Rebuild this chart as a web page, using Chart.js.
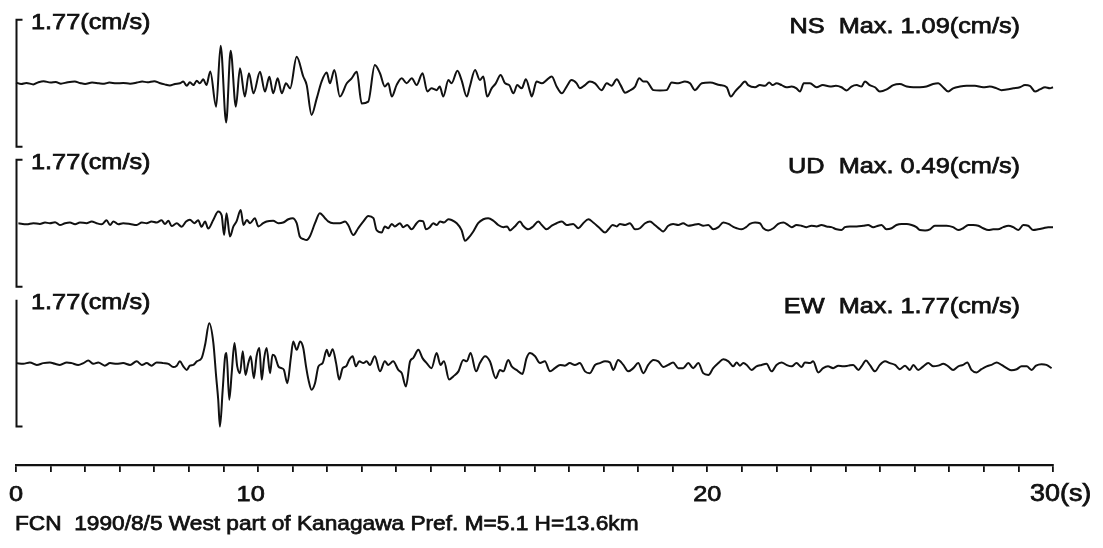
<!DOCTYPE html>
<html>
<head>
<meta charset="utf-8">
<title>FCN 1990/8/5 velocity records</title>
<script src="https://cdn.jsdelivr.net/npm/chart.js@4.4.1/dist/chart.umd.min.js"></script>
<style>
  html, body { margin: 0; padding: 0; background: #ffffff; }
  #wrap { width: 1103px; height: 548px; position: relative; }
  canvas { display: block; }
</style>
</head>
<body>
<div id="wrap"><canvas id="seis" width="1103" height="548"></canvas></div>
<script>
// Velocity seismograms (cm/s) recorded at FCN, three components, 0-30 s.

const nsTime = [0,0.15,0.3,0.5,0.65,0.8,1.0,1.15,1.3,1.5,1.7,1.85,2.0,2.2,2.4,2.55,2.7,2.9,3.1,3.3,3.5,3.65,3.8,4.0,4.15,4.3,4.45,4.6,
  4.74,4.84,4.94,5.03,5.13,5.23,5.32,5.42,5.51,5.62,5.79,5.92,6.08,6.21,6.36,6.48,6.62,6.74,6.87,7.06,7.20,7.33,7.44,7.57,7.69,7.81,7.93,
  8.12,8.31,8.41,8.55,8.70,8.84,8.99,9.08,9.21,9.37,9.57,9.71,9.86,10.00,10.19,10.38,10.53,10.67,10.77,10.87,11.01,11.16,11.30,11.45,11.59,
  11.76,11.90,12.02,12.17,12.26,12.36,12.51,12.60,12.77,12.89,13.04,13.13,13.28,13.42,13.52,13.63,13.76,13.88,14.02,14.15,14.27,14.39,14.50,
  14.63,14.75,14.87,14.92,15.06,15.21,15.35,15.50,15.64,15.79,15.93,16.07,16.22,16.31,16.46,16.60,16.75,16.94,17.09,17.23,17.38,17.49,17.62,
  17.76,17.91,18.03,18.15,18.24,18.44,18.63,18.82,18.97,19.16,19.35,19.50,19.64,19.84,20.08,20.36,20.56,20.68,20.80,20.94,21.09,21.18,21.38,
  21.52,21.67,21.79,21.89,22.00,22.15,22.29,22.44,22.58,22.68,22.79,22.97,23.16,23.34,23.55,23.72,23.88,24.03,24.17,24.32,24.46,24.56,24.70,
  24.85,24.99,25.19,25.38,25.57,25.77,25.96,26.15,26.34,26.53,26.68,26.82,26.97,27.11,27.31,27.50,27.74,27.98,28.17,28.37,28.51,28.66,28.85,
  29.04,29.19,29.33,29.48,29.62,29.77,29.91,30.0];
const nsVel = [0.02,-0.02,0.01,-0.03,0.03,0.06,0.02,0.04,-0.01,0.03,0.05,0.01,-0.02,0.02,0.0,-0.01,0.02,0.0,0.01,-0.01,0.02,0.05,0.03,0.06,0.01,-0.03,-0.06,-0.02,
  0,0.05,-0.07,0.03,-0.05,0.07,0,0.11,-0.05,0.33,-0.65,1.05,-1.09,0.91,-0.65,0.42,-0.37,0.28,-0.28,0.32,-0.23,0.18,-0.28,0.14,-0.28,0,-0.14,
  0.74,0.19,-0.05,-0.88,-0.42,0.05,0.30,0,0.37,-0.37,0,0.14,0.32,-0.56,-0.51,0.51,0.28,-0.09,0,-0.37,-0.05,0.14,0,0.14,-0.05,
  0.28,-0.23,-0.14,-0.19,-0.09,-0.37,0.09,0,0.35,0.09,-0.37,-0.09,0.37,0.09,0.19,-0.37,-0.14,0,0.23,0,-0.05,-0.28,-0.05,
  -0.14,0.11,-0.23,-0.37,0.05,0,0.09,0.19,-0.09,-0.28,-0.09,0.09,0,-0.14,-0.05,0.05,0,-0.19,0,-0.07,0.11,-0.05,-0.26,
  -0.20,-0.09,0.14,0.05,0.05,-0.19,-0.20,-0.19,0.02,0,0.05,0,-0.19,0,0.02,-0.05,-0.11,-0.37,-0.23,-0.09,0.05,-0.05,-0.11,
  -0.05,-0.07,0.02,-0.05,0,-0.05,-0.11,-0.09,-0.14,-0.23,0,0,-0.11,-0.05,-0.09,-0.07,-0.11,-0.20,-0.09,-0.05,-0.09,0.05,-0.05,
  -0.11,-0.23,-0.17,-0.05,-0.02,-0.09,-0.11,-0.11,-0.09,-0.02,0,-0.11,-0.23,-0.14,-0.09,-0.07,-0.07,-0.11,-0.09,-0.14,-0.19,-0.17,-0.14,
  -0.11,-0.05,-0.07,-0.23,-0.17,-0.11,-0.14,-0.11];

const udTime = [0.07,0.31,0.50,0.69,0.84,0.98,1.13,1.27,1.42,1.56,1.71,1.85,2.04,2.19,2.33,2.48,2.62,2.72,2.82,2.96,3.10,3.30,3.49,3.64,3.78,
  3.92,4.07,4.21,4.31,4.41,4.50,4.65,4.79,4.92,5.03,5.16,5.27,5.37,5.47,5.56,5.71,5.85,5.95,6.02,6.09,6.19,6.29,6.38,6.50,6.58,6.68,6.77,
  6.91,7.01,7.15,7.25,7.44,7.59,7.73,7.88,8.00,8.12,8.21,8.31,8.41,8.50,8.65,8.79,8.94,9.03,9.18,9.37,9.52,9.61,9.76,9.90,10.05,10.19,
  10.34,10.43,10.58,10.67,10.77,10.87,10.96,11.11,11.20,11.32,11.44,11.59,11.68,11.78,11.86,11.97,12.07,12.17,12.27,12.38,12.51,12.60,12.75,
  12.89,12.99,13.08,13.23,13.37,13.52,13.66,13.81,13.95,14.10,14.21,14.29,14.43,14.58,14.67,14.82,14.96,15.11,15.21,15.35,15.50,15.64,15.79,
  15.93,16.12,16.27,16.41,16.56,16.70,16.89,17.04,17.14,17.26,17.38,17.47,17.62,17.76,17.91,18.05,18.20,18.34,18.48,18.63,18.72,18.87,19.01,
  19.16,19.30,19.45,19.59,19.74,19.88,20.03,20.17,20.32,20.46,20.61,20.75,20.85,20.99,21.12,21.23,21.38,21.52,21.62,21.76,21.91,22.05,22.20,
  22.34,22.44,22.58,22.72,22.87,23.01,23.16,23.30,23.45,23.59,23.74,23.88,23.98,24.12,24.32,24.51,24.65,24.80,24.94,25.04,25.18,25.33,25.47,
  25.62,25.77,25.91,26.05,26.15,26.30,26.44,26.58,26.73,26.92,27.11,27.26,27.40,27.55,27.69,27.84,27.98,28.13,28.27,28.41,28.56,28.71,28.85,
  29.00,29.14,29.28,29.43,29.57,29.72,29.86,30.0];
const udVel = [0,-0.03,0,-0.02,0.02,0,0.03,-0.05,0,0.02,-0.03,0.02,0,0.05,0,-0.03,0.08,-0.05,0.05,-0.03,0,-0.02,-0.05,0.02,0,
  0.05,0.02,0.08,-0.02,0.07,-0.08,0,-0.10,0.05,0.10,0,0.08,-0.10,0.05,-0.15,0.10,0.33,0.22,-0.33,0.28,-0.37,-0.09,0.05,0.37,-0.05,0.09,0,
  0.14,-0.09,0,0.05,0.07,0,0.02,0.11,0.14,0,-0.37,-0.44,-0.47,-0.37,0,0.28,0.14,0.05,0,0,0.05,-0.05,-0.33,-0.14,0.05,0.20,
  0.14,-0.19,-0.26,-0.09,-0.14,-0.02,-0.09,0,-0.11,-0.05,-0.17,0,0.07,0.05,-0.17,-0.11,0,-0.05,0.05,0.02,0.11,0.09,0,
  -0.19,-0.49,-0.42,-0.23,0,0.11,0.14,0.07,-0.05,-0.11,-0.09,-0.20,-0.09,0.05,-0.07,-0.17,-0.09,0.05,-0.05,-0.17,-0.07,0,0.05,
  -0.05,-0.02,-0.14,0,0.11,0.02,-0.14,-0.26,-0.17,-0.05,-0.09,-0.02,-0.05,0,-0.17,-0.14,0,0.05,-0.05,-0.17,-0.23,-0.07,-0.02,
  -0.05,0,-0.07,-0.05,-0.02,-0.07,-0.05,-0.17,-0.11,0.02,-0.02,-0.10,-0.14,-0.17,-0.11,-0.02,0.02,0,-0.14,-0.20,-0.14,-0.02,0.02,
  -0.05,-0.11,-0.05,-0.07,-0.11,-0.07,-0.09,-0.05,-0.09,-0.11,-0.17,-0.19,-0.11,-0.09,-0.09,-0.07,-0.05,-0.11,-0.07,-0.05,-0.17,-0.14,-0.05,
  -0.02,-0.02,-0.05,-0.11,-0.19,-0.20,-0.17,-0.07,-0.07,-0.07,-0.11,-0.19,-0.14,-0.05,-0.05,-0.07,-0.14,-0.19,-0.17,-0.17,-0.11,-0.07,-0.11,
  -0.19,-0.05,-0.07,-0.19,-0.17,-0.14,-0.11,-0.11];

const ewTime = [0.02,0.21,0.40,0.60,0.79,0.98,1.13,1.27,1.47,1.61,1.80,1.95,2.09,2.24,2.38,2.57,2.72,2.91,3.10,3.30,3.49,3.64,3.78,3.92,
  4.07,4.26,4.41,4.55,4.65,4.74,4.84,4.94,5.03,5.13,5.23,5.37,5.47,5.59,5.71,5.79,5.85,5.90,5.98,6.05,6.09,6.17,6.24,6.32,6.40,6.48,6.56,
  6.64,6.72,6.79,6.88,6.96,7.04,7.11,7.18,7.25,7.35,7.42,7.49,7.59,7.68,7.75,7.85,7.95,8.02,8.12,8.22,8.31,8.39,8.46,8.55,8.65,8.75,8.87,
  8.99,9.06,9.16,9.26,9.35,9.45,9.55,9.64,9.74,9.83,9.93,10.05,10.14,10.24,10.38,10.53,10.67,10.77,10.91,11.06,11.16,11.28,11.40,11.49,11.64,
  11.76,11.88,12.02,12.17,12.28,12.38,12.53,12.65,12.80,12.94,13.04,13.15,13.31,13.42,13.57,13.71,13.88,14.00,14.10,14.24,14.34,14.48,14.65,
  14.77,14.87,15.01,15.16,15.30,15.45,15.59,15.74,15.88,16.02,16.17,16.31,16.46,16.60,16.75,16.89,17.04,17.18,17.28,17.42,17.57,17.71,17.86,
  18.00,18.15,18.29,18.44,18.58,18.73,18.87,19.01,19.16,19.30,19.45,19.59,19.74,19.88,20.03,20.17,20.32,20.46,20.61,20.75,20.85,20.94,21.04,
  21.14,21.28,21.42,21.57,21.71,21.86,22.00,22.15,22.29,22.44,22.58,22.73,22.82,22.97,23.06,23.21,23.35,23.49,23.64,23.79,23.93,24.08,24.22,
  24.37,24.46,24.59,24.70,24.85,24.99,25.14,25.28,25.43,25.57,25.72,25.86,25.96,26.10,26.25,26.39,26.54,26.68,26.83,26.97,27.11,27.26,27.40,
  27.52,27.64,27.79,27.93,28.08,28.22,28.37,28.51,28.66,28.80,28.95,29.09,29.24,29.38,29.51,29.67,29.81,29.96];
const ewVel = [0,-0.02,0.02,-0.05,0,0.02,-0.02,-0.05,0.02,0,-0.05,0,0.07,-0.02,0.02,-0.07,0,-0.02,0,-0.05,0.05,-0.05,0,-0.07,
  0.02,0,-0.02,-0.11,-0.07,0.05,-0.09,-0.19,-0.07,-0.05,0.05,0.14,0.51,1.11,0.56,-0.37,-1.02,-1.77,-0.74,0.19,0.28,-1.02,-0.28,0.56,-0.09,-0.28,0.33,
  -0.33,0,0.19,-0.42,0.19,0.42,-0.46,0.14,0.42,-0.28,0.23,0.19,-0.09,-0.14,-0.19,-0.56,0.14,0.60,0.37,0.60,0.42,-0.09,-0.46,-0.74,-0.56,-0.09,0,
  0.37,0.19,0.39,0,-0.46,-0.14,-0.09,0.09,0.19,-0.09,0.05,0,0.05,-0.05,0.19,-0.23,0.05,-0.05,0.05,-0.19,-0.28,-0.65,0.05,0.14,0.37,
  0.14,0,-0.14,0.28,-0.05,0.05,-0.46,-0.37,-0.23,0.09,0.05,0.28,-0.23,0,0.19,0.05,-0.42,-0.19,-0.23,0.09,-0.09,-0.19,-0.30,
  0.14,0.28,0.20,0,0.05,-0.23,-0.14,-0.05,-0.07,0,-0.05,0,-0.23,-0.28,-0.05,0,0.05,0.02,-0.19,0.09,-0.05,-0.23,-0.14,
  0,-0.28,-0.05,0.09,0.05,-0.11,-0.05,0.02,-0.14,-0.14,0,-0.14,0,-0.28,-0.33,-0.14,0,0.11,0.05,-0.09,0.02,-0.07,0,
  -0.05,-0.19,-0.09,-0.05,-0.02,-0.23,-0.05,0.02,-0.05,-0.09,0,-0.11,0.02,0,0.05,-0.26,-0.14,-0.09,-0.14,-0.07,-0.09,-0.07,-0.05,
  -0.19,-0.09,0.07,-0.05,-0.23,-0.05,0.05,0,-0.05,-0.17,-0.07,-0.19,-0.05,-0.19,-0.09,0,-0.09,-0.07,-0.02,-0.09,-0.19,-0.09,-0.05,
  0.02,-0.19,-0.26,-0.17,-0.09,-0.05,0.02,-0.05,-0.14,-0.20,-0.17,-0.09,-0.09,-0.19,-0.07,-0.03,-0.05,-0.14];

const componentNames = ['NS', 'UD', 'EW'];
const fullScale = 1.77;                       // bracket half-height, cm/s
const timeLabelValues = [0, 10, 20, 30];
const timeLabelTexts = ['0', '10', '20', '30(s)'];
const caption = 'FCN  1990/8/5 West part of Kanagawa Pref. M=5.1 H=13.6km';

// ---- layout of the three stacked traces (in velocity units) ----
const UNITS_ABOVE_FIRST = 1.96;   // from plot top to NS zero line
const TRACE_PITCH = 3.9;          // between consecutive zero lines
const PLOT_RANGE = 12.6;          // full plot height in velocity units

function bandFor(i) {
  const max = UNITS_ABOVE_FIRST + i * TRACE_PITCH;
  return { min: max - PLOT_RANGE, max: max };
}

function pairs(ts, vs) { return ts.map((t, i) => ({ x: t, y: vs[i] })); }
function peakAbs(vs) { return Math.max(...vs.map(Math.abs)); }

const series = [
  { id: 'yNS', t: nsTime, v: nsVel },
  { id: 'yUD', t: udTime, v: udVel },
  { id: 'yEW', t: ewTime, v: ewVel }
];

const INK = '#111111';
const FAMILY = '"Liberation Sans", Arial, Helvetica, sans-serif';

function drawWideText(ctx, text, x, y, align, size, stretch) {
  ctx.save();
  ctx.font = size + 'px ' + FAMILY;
  const w = ctx.measureText(text).width * stretch;
  const x0 = align === 'right' ? x - w : align === 'center' ? x - w / 2 : x;
  ctx.translate(x0, y);
  ctx.scale(stretch, 1);
  ctx.textAlign = 'left';
  ctx.textBaseline = 'alphabetic';
  ctx.fillStyle = INK;
  ctx.strokeStyle = INK;
  ctx.lineWidth = 0.75;
  ctx.fillText(text, 0, 0);
  ctx.strokeText(text, 0, 0);
  ctx.restore();
}

const annotations = {
  id: 'seismoAnnotations',
  afterDraw(chart) {
    const ctx = chart.ctx;
    const area = chart.chartArea;
    const xs = chart.scales.x;

    series.forEach((s, i) => {
      const ys = chart.scales[s.id];
      const top = ys.getPixelForValue(fullScale);
      const bottom = ys.getPixelForValue(-fullScale);
      const x = area.left + 0.5;

      // scale bracket
      ctx.save();
      ctx.strokeStyle = INK;
      ctx.lineWidth = 2;
      ctx.beginPath();
      if (i < 2) {
        ctx.moveTo(x + 6, top);
        ctx.lineTo(x, top);
      } else {
        ctx.moveTo(x, top);
      }
      ctx.lineTo(x, bottom);
      ctx.lineTo(x + 6, bottom);
      ctx.stroke();
      ctx.restore();

      // scale and peak labels
      drawWideText(ctx, fullScale.toFixed(2) + '(cm/s)', area.left + 15, top + 9, 'left', 22, 1.15);
      const label = componentNames[i] + '  Max. ' + peakAbs(s.v).toFixed(2) + '(cm/s)';
      drawWideText(ctx, label, 1020, top + 13, 'right', 22, 1.15);
    });

    // time labels under the axis
    const labelY = area.bottom + 36;
    timeLabelTexts.forEach((txt, i) => {
      const px = xs.getPixelForValue(timeLabelValues[i]);
      if (i === 0) drawWideText(ctx, txt, px, labelY, 'center', 22, 1.15);
      else if (i === 1) drawWideText(ctx, txt, px - 111, labelY, 'center', 22, 1.15);
      else if (i === 2) drawWideText(ctx, txt, px, labelY, 'center', 22, 1.15);
      else drawWideText(ctx, txt, px - 23, labelY, 'left', 23, 1.17);
    });

    drawWideText(ctx, caption, area.left - 1, area.bottom + 65, 'left', 21, 1.08);
  }
};

const yScales = {};
series.forEach((s, i) => {
  const b = bandFor(i);
  yScales[s.id] = {
    type: 'linear',
    display: false,
    min: b.min,
    max: b.max,
    afterFit: sc => { sc.width = 0; }
  };
});

new Chart(document.getElementById('seis'), {
  type: 'line',
  data: {
    datasets: series.map(s => ({
      label: s.id,
      data: pairs(s.t, s.v),
      yAxisID: s.id,
      borderColor: INK,
      borderWidth: 2,
      pointRadius: 0,
      fill: false,
      cubicInterpolationMode: 'monotone',
      clip: 4
    }))
  },
  options: {
    responsive: false,
    animation: false,
    devicePixelRatio: 1,
    layout: { padding: { left: 16, right: 50, top: 13, bottom: 76 } },
    plugins: { legend: { display: false }, tooltip: { enabled: false }, title: { display: false } },
    scales: Object.assign({
      x: {
        type: 'linear',
        position: 'bottom',
        min: 0,
        max: 30,
        ticks: { display: false, stepSize: 1, maxTicksLimit: 40 },
        grid: { drawOnChartArea: false, drawTicks: true, tickLength: 7, color: INK, lineWidth: 1.8 },
        border: { display: true, color: INK, width: 2.2 },
        afterFit: sc => { sc.height = 7; }
      }
    }, yScales)
  },
  plugins: [annotations]
});
</script>
</body>
</html>
